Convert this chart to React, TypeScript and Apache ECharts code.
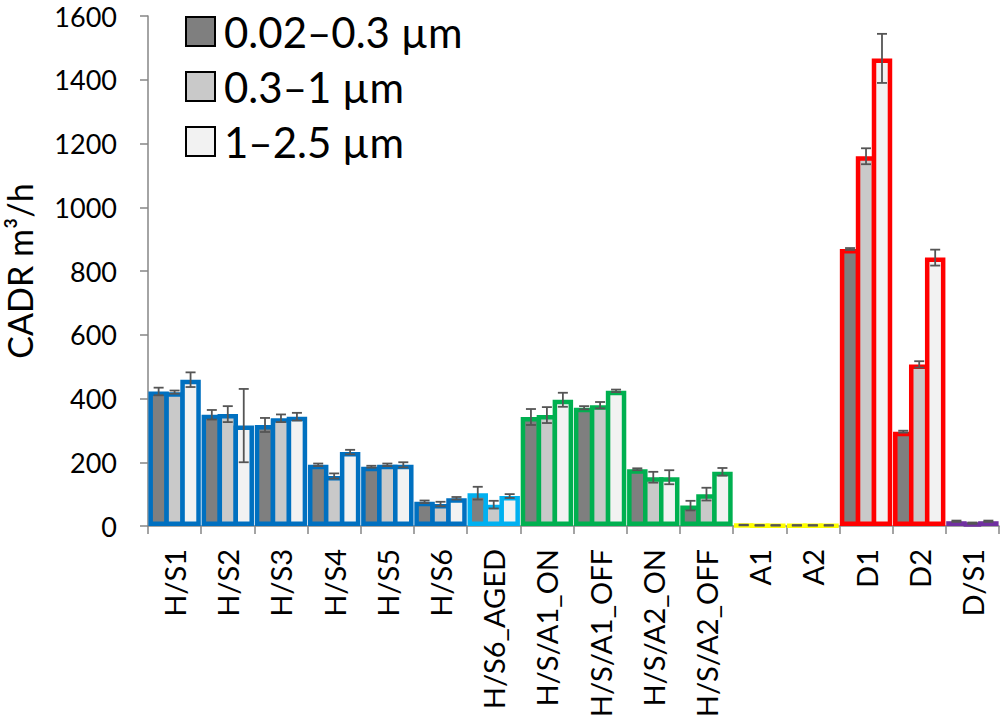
import React, { useEffect, useRef } from "react";
import * as echarts from "echarts";

const categories = [
  "H/S1", "H/S2", "H/S3", "H/S4", "H/S5", "H/S6", "H/S6_AGED",
  "H/S/A1_ON", "H/S/A1_OFF", "H/S/A2_ON", "H/S/A2_OFF",
  "A1", "A2", "D1", "D2", "D/S1",
];

const borderColors = [
  "#0070c0", "#0070c0", "#0070c0", "#0070c0", "#0070c0", "#0070c0", "#00b0f0",
  "#00b050", "#00b050", "#00b050", "#00b050",
  "#ffff00", "#ffff00", "#ff0000", "#ff0000", "#7030a0",
];

const seriesNames = ["0.02–0.3 µm", "0.3–1 µm", "1–2.5 µm"];
const fillColors = ["#7f7f7f", "#c9c9c9", "#f2f2f2"];

const smallValues = [422, 349, 317, 192, 186, 76, 103, 342, 371, 178, 64, 3, 2, 869, 296, 15];
const midValues = [420, 351, 338, 157, 192, 69, 67, 348, 379, 153, 100, 2, 2, 1160, 507, 9];
const largeValues = [459, 315, 343, 232, 192, 87, 94, 396, 424, 153, 170, 2, 2, 1467, 842, 15];

const smallErrors = [12, 15, 22, 4, 3, 4, 20, 25, 5, 3, 15, 1, 1, 3, 3, 2];
const midErrors = [5, 25, 12, 8, 4, 7, 12, 25, 10, 17, 20, 1, 1, 25, 10, 2];
const largeErrors = [23, 115, 12, 7, 8, 4, 6, 22, 4, 22, 12, 1, 1, 77, 25, 2];

const yTicks = { min: 0, max: 1600, interval: 200 };

const FONT = "Lato, 'Open Sans', sans-serif";

export default function App() {
  const ref = useRef<HTMLDivElement>(null);

  useEffect(() => {
    if (!ref.current) return;
    const chart = echarts.init(ref.current, undefined, { renderer: "svg" });
    const values = [smallValues, midValues, largeValues];
    const errors = [smallErrors, midErrors, largeErrors];
    const catGap = 0.015;
    const gap = -0.22;
    const borderW = 4.5;

    const barSeries = values.map((vals, k) => ({
      name: seriesNames[k],
      type: "bar",
      barGap: gap * 100 + "%",
      barCategoryGap: catGap * 100 + "%",
      itemStyle: { color: fillColors[k], borderWidth: borderW, borderColor: "#000" },
      data: vals.map((v, i) => ({
        value: v,
        itemStyle: { color: fillColors[k], borderColor: borderColors[i], borderWidth: borderW },
      })),
      z: 2 + k,
    }));

    const errorSeries = values.map((vals, k) => ({
      name: "err" + k,
      type: "custom",
      z: 10,
      silent: true,
      data: vals.map((v, i) => [i, v, errors[k][i]]),
      renderItem: (params: any, api: any) => {
        const idx = api.value(0);
        const v = api.value(1);
        const e = api.value(2);
        const band = api.size([1, 0])[0];
        const bw = (band * (1 - catGap)) / (3 + 2 * gap);
        const step = bw * (1 + gap);
        const c = api.coord([idx, v]);
        const x = c[0] + (k - 1) * step;
        const top = api.coord([idx, v + e])[1];
        const bot = api.coord([idx, Math.max(0, v - e)])[1];
        const cap = 5;
        const style = { stroke: "#555555", lineWidth: 1.8 };
        return {
          type: "group",
          children: [
            { type: "line", shape: { x1: x, y1: top, x2: x, y2: bot }, style },
            { type: "line", shape: { x1: x - cap, y1: top, x2: x + cap, y2: top }, style },
            { type: "line", shape: { x1: x - cap, y1: bot, x2: x + cap, y2: bot }, style },
          ],
        };
      },
    }));

    chart.setOption({
      animation: false,
      textStyle: { fontFamily: FONT },
      grid: { left: 148, right: 1, top: 16, bottom: 193, containLabel: false, outerBoundsMode: "none" },
      legend: {
        orient: "vertical",
        left: 180,
        top: 4,
        icon: "rect",
        itemWidth: 29,
        itemHeight: 29,
        itemGap: 10,
        data: seriesNames,
        itemStyle: { borderColor: "#000", borderWidth: 2 },
        textStyle: {
          fontSize: 42,
          lineHeight: 45,
          color: "#000",
          fontFamily: FONT,
          padding: [0, 0, 0, 4],
        },
      },
      xAxis: {
        type: "category",
        data: categories,
        axisLine: { show: true, lineStyle: { color: "#868686", width: 1.5 } },
        axisTick: { show: true, length: 8, lineStyle: { color: "#868686", width: 1.5 } },
        axisLabel: {
          rotate: 90,
          interval: 0,
          margin: 23,
          fontSize: 29,
          color: "#000",
          fontFamily: FONT,
        },
      },
      yAxis: {
        type: "value",
        min: yTicks.min,
        max: yTicks.max,
        interval: yTicks.interval,
        name: "CADR m³/h",
        nameLocation: "middle",
        nameGap: 112,
        nameTextStyle: { fontSize: 34, lineHeight: 34, color: "#000", fontFamily: FONT },
        splitLine: { show: false },
        axisLine: { show: true, lineStyle: { color: "#868686", width: 1.5 } },
        axisTick: { show: true, length: 8, lineStyle: { color: "#868686", width: 1.5 } },
        axisLabel: {
          margin: 31,
          fontSize: 27,
          color: "#000",
          fontFamily: FONT,
          formatter: (v: number) => String(v),
        },
      },
      series: [...barSeries, ...errorSeries],
    });

    return () => chart.dispose();
  }, []);

  return (
    <div
      ref={ref}
      style={{ position: "absolute", left: 0, top: 0, width: 1000, height: 719, background: "#fff" }}
    />
  );
}
